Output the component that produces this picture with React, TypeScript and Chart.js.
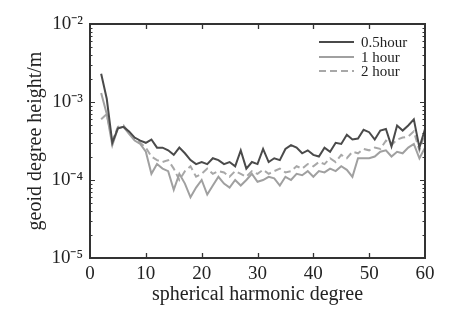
import React, { useEffect, useRef } from 'react';
import { Chart, registerables } from 'chart.js';

Chart.register(...registerables);

const degrees = [2, 3, 4, 5, 6, 7, 8, 9, 10, 11, 12, 13, 14, 15, 16, 17, 18, 19, 20, 21, 22, 23, 24, 25, 26, 27, 28, 29, 30, 31, 32, 33, 34, 35, 36, 37, 38, 39, 40, 41, 42, 43, 44, 45, 46, 47, 48, 49, 50, 51, 52, 53, 54, 55, 56, 57, 58, 59, 60];

const halfHour = [2.3e-3, 1.1e-3, 3.0e-4, 4.6e-4, 4.8e-4, 4.2e-4, 3.5e-4, 3.2e-4, 3.0e-4, 3.3e-4, 2.6e-4, 2.6e-4, 2.4e-4, 2.1e-4, 2.6e-4, 2.2e-4, 1.8e-4, 1.6e-4, 1.7e-4, 1.6e-4, 1.9e-4, 1.8e-4, 1.6e-4, 1.7e-4, 1.5e-4, 2.4e-4, 1.4e-4, 1.7e-4, 1.6e-4, 2.5e-4, 1.7e-4, 1.9e-4, 1.8e-4, 2.5e-4, 2.8e-4, 2.6e-4, 2.2e-4, 2.4e-4, 2.1e-4, 2.0e-4, 2.6e-4, 2.3e-4, 3.0e-4, 2.9e-4, 3.8e-4, 3.3e-4, 3.4e-4, 4.4e-4, 4.1e-4, 3.3e-4, 4.3e-4, 4.5e-4, 2.7e-4, 5.0e-4, 4.3e-4, 5.0e-4, 6.0e-4, 2.6e-4, 4.5e-4];

const oneHour = [1.3e-3, 7e-4, 2.8e-4, 4.6e-4, 4.8e-4, 3.9e-4, 3.2e-4, 2.9e-4, 2.3e-4, 1.2e-4, 1.6e-4, 1.4e-4, 1.3e-4, 7.5e-5, 1.2e-4, 9e-5, 6e-5, 8e-5, 1.0e-4, 6.5e-5, 8.5e-5, 1.1e-4, 9e-5, 8e-5, 1.0e-4, 8.5e-5, 1.0e-4, 1.2e-4, 9.5e-5, 1.0e-4, 1.1e-4, 1.05e-4, 8.5e-5, 1.1e-4, 1.0e-4, 1.2e-4, 1.15e-4, 1.3e-4, 1.1e-4, 1.3e-4, 1.25e-4, 1.4e-4, 1.3e-4, 1.5e-4, 1.35e-4, 1.1e-4, 1.9e-4, 1.9e-4, 1.9e-4, 2.0e-4, 2.3e-4, 2.4e-4, 2.0e-4, 2.3e-4, 2.2e-4, 2.6e-4, 2.9e-4, 1.9e-4, 2.6e-4];

const twoHour = [6e-4, 7e-4, 3.2e-4, 4.8e-4, 5.0e-4, 4.0e-4, 3.4e-4, 3.0e-4, 2.6e-4, 2.0e-4, 1.8e-4, 1.7e-4, 1.8e-4, 1.4e-4, 1.0e-4, 1.3e-4, 1.5e-4, 1.1e-4, 1.2e-4, 1.4e-4, 1.2e-4, 1.3e-4, 1.25e-4, 1.1e-4, 1.3e-4, 1.2e-4, 1.1e-4, 1.3e-4, 1.2e-4, 1.35e-4, 1.2e-4, 1.3e-4, 1.4e-4, 1.25e-4, 1.3e-4, 1.5e-4, 1.4e-4, 1.6e-4, 1.5e-4, 1.7e-4, 1.6e-4, 1.9e-4, 1.7e-4, 2.1e-4, 1.9e-4, 2.3e-4, 2.2e-4, 2.5e-4, 2.4e-4, 2.6e-4, 2.5e-4, 3.2e-4, 2.8e-4, 3.3e-4, 3.5e-4, 3.6e-4, 4.2e-4, 2.4e-4, 4.0e-4];

const seriesLabels = ['0.5hour', '1 hour', '2 hour'];
const xTickValues = [0, 10, 20, 30, 40, 50, 60];
const yTickValues = [1e-5, 1e-4, 1e-3, 1e-2];
const yTickLabels = ['10⁻⁵', '10⁻⁴', '10⁻³', '10⁻²'];
const xTitle = 'spherical harmonic degree';
const yTitle = 'geoid degree height/m';

const SERIF = '"Liberation Serif", "Times New Roman", serif';
const TEXT = '#222';
const FRAME = '#333';

const framePlugin = {
  id: 'frameTicks',
  afterDatasetsDraw(chart: any) {
    const { ctx, chartArea, scales } = chart;
    const { left, right, top, bottom } = chartArea;
    const x = scales.x;
    const y = scales.y;
    ctx.save();
    ctx.strokeStyle = FRAME;
    ctx.lineWidth = 1.3;
    for (const v of xTickValues) {
      if (v === 0 || v === 60) continue;
      const px = Math.round(x.getPixelForValue(v)) + 0.5;
      ctx.beginPath();
      ctx.moveTo(px, bottom);
      ctx.lineTo(px, bottom - 5);
      ctx.moveTo(px, top);
      ctx.lineTo(px, top + 5);
      ctx.stroke();
    }
    ctx.lineWidth = 1;
    for (let e = -5; e <= -3; e++) {
      for (let m = 1; m <= 9; m++) {
        const val = m * Math.pow(10, e);
        const py = Math.round(y.getPixelForValue(val)) + 0.5;
        const len = m === 1 ? 5 : 2.5;
        ctx.beginPath();
        ctx.moveTo(left, py);
        ctx.lineTo(left + len, py);
        ctx.moveTo(right, py);
        ctx.lineTo(right - len, py);
        ctx.stroke();
      }
    }
    ctx.lineWidth = 2;
    ctx.strokeRect(left, top, right - left, bottom - top);

    // legend
    const ds = chart.data.datasets;
    const lx0 = 319;
    const lx1 = 354;
    const rows = [42, 57, 71];
    ctx.font = '15px ' + SERIF;
    ctx.textBaseline = 'middle';
    ctx.textAlign = 'left';
    ds.forEach((d: any, i: number) => {
      ctx.strokeStyle = d.borderColor;
      ctx.lineWidth = d.borderWidth;
      ctx.setLineDash(d.borderDash || []);
      ctx.beginPath();
      ctx.moveTo(lx0, rows[i]);
      ctx.lineTo(lx1, rows[i]);
      ctx.stroke();
      ctx.setLineDash([]);
      ctx.fillStyle = TEXT;
      ctx.fillText(d.label, 361, rows[i] + 1);
    });
    ctx.restore();
  },
};

export default function App() {
  const ref = useRef<HTMLCanvasElement>(null);
  useEffect(() => {
    if (!ref.current) return;
    const mk = (vals: number[]) => degrees.map((d, i) => ({ x: d, y: vals[i] }));
    const chart = new Chart(ref.current, {
      type: 'line',
      data: {
        datasets: [
          { label: seriesLabels[0], data: mk(halfHour), borderColor: '#4a4a4a', borderWidth: 2, pointRadius: 0, tension: 0 },
          { label: seriesLabels[1], data: mk(oneHour), borderColor: '#a0a0a0', borderWidth: 2, pointRadius: 0, tension: 0 },
          { label: seriesLabels[2], data: mk(twoHour), borderColor: '#a8a8a8', borderWidth: 2, borderDash: [7, 4], pointRadius: 0, tension: 0 },
        ],
      },
      options: {
        responsive: false,
        animation: false,
        layout: { padding: { left: 0, right: 37, top: 24, bottom: 0 } },
        plugins: { legend: { display: false }, tooltip: { enabled: false } },
        scales: {
          x: {
            type: 'linear',
            min: 0,
            max: 60,
            grid: { display: false, drawTicks: false },
            border: { display: false },
            ticks: { stepSize: 10, color: TEXT, padding: 5, font: { family: SERIF, size: 19 } },
            title: { display: true, text: xTitle, color: TEXT, font: { family: SERIF, size: 20 }, padding: { top: 2, bottom: 8 } },
            afterFit: (s: any) => { s.height = 57; },
          },
          y: {
            type: 'logarithmic',
            min: 1e-5,
            max: 1e-2,
            grid: { display: false, drawTicks: false },
            border: { display: false },
            ticks: {
              autoSkip: false,
              color: TEXT,
              padding: 7,
              font: { family: SERIF, size: 19 },
              callback: (v: any) => {
                const n = Number(v);
                const idx = yTickValues.findIndex((t) => Math.abs(n - t) / t < 1e-6);
                return idx >= 0 ? yTickLabels[idx] : '';
              },
            },
            title: { display: true, text: yTitle, color: TEXT, font: { family: SERIF, size: 20 }, padding: { top: 24, bottom: 2 } },
            afterFit: (s: any) => { s.width = 90; },
          },
        },
      },
      plugins: [framePlugin],
    });
    return () => chart.destroy();
  }, []);
  return (
    <div style={{ position: 'fixed', left: 0, top: 0, width: 462, height: 315, background: '#fff' }}>
      <canvas ref={ref} width={462} height={315} />
    </div>
  );
}
